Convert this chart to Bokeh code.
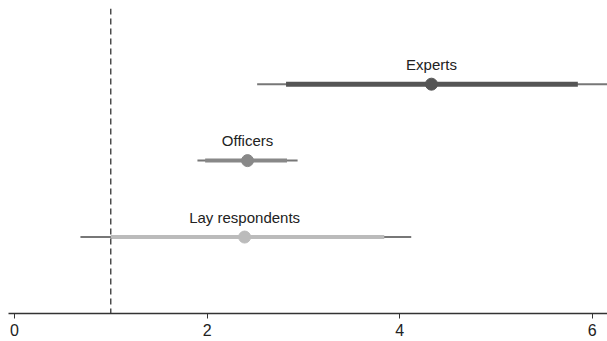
from bokeh.plotting import figure
from bokeh.models import Range1d, Span, FixedTicker, LabelSet, ColumnDataSource
from bokeh.core.properties import value
from bokeh.embed import file_html
from bokeh.resources import INLINE

groups = ["Experts", "Officers", "Lay respondents"]
ypos = [3, 2, 1]
estimate = [4.33, 2.42, 2.39]
ci_low = [2.52, 1.90, 0.685]
ci_high = [6.17, 2.94, 4.12]
inner_low = [2.82, 1.98, 1.0]
inner_high = [5.85, 2.83, 3.84]
colors = ["#555555", "#888888", "#bbbbbb"]
thick_w = [5, 4, 4]
ref_line = 1.0
x_ticks = [0, 2, 4, 6]

p = figure(width=607, height=341, output_backend="svg", toolbar_location=None,
           x_range=Range1d(-0.062, 6.158), y_range=Range1d(0.0, 3.99),
           min_border_left=8, min_border_right=0, min_border_top=8, min_border_bottom=28)
p.outline_line_color = None
p.grid.visible = False
p.yaxis.visible = False
p.background_fill_color = "white"
p.border_fill_color = "white"

ax = p.xaxis[0]
ax.ticker = FixedTicker(ticks=x_ticks)
ax.axis_line_color = "#333333"
ax.axis_line_width = 1.3
ax.major_tick_line_color = "#333333"
ax.major_tick_out = 5
ax.major_tick_in = 0
ax.minor_tick_line_color = None
ax.major_label_text_font = "Liberation Sans"
ax.major_label_text_font_size = "16px"
ax.major_label_text_color = "#222222"
ax.major_label_standoff = 5

p.add_layout(Span(location=ref_line, dimension="height", line_color="#333333",
                  line_dash="6 4", line_width=1.3))

src = ColumnDataSource(dict(y=ypos, est=estimate, lo=ci_low, hi=ci_high,
                            ilo=inner_low, ihi=inner_high, c=colors, w=thick_w,
                            name=groups))
p.segment(x0="lo", x1="hi", y0="y", y1="y", source=src, line_color="#777777", line_width=2)
p.segment(x0="ilo", x1="ihi", y0="y", y1="y", source=src, line_color="c", line_width="w")
p.scatter(x="est", y="y", source=src, size=12, fill_color="c", line_color="c")

lbl = ColumnDataSource(dict(x=estimate, y=[v + 0.26 for v in ypos], t=groups))
p.add_layout(LabelSet(x="x", y="y", text="t", source=lbl, text_align="center",
                      text_baseline="middle", text_font=value("Liberation Sans"),
                      text_font_size="15px", text_color="#222222"))

open("out.html", "w").write(file_html(p, INLINE))
